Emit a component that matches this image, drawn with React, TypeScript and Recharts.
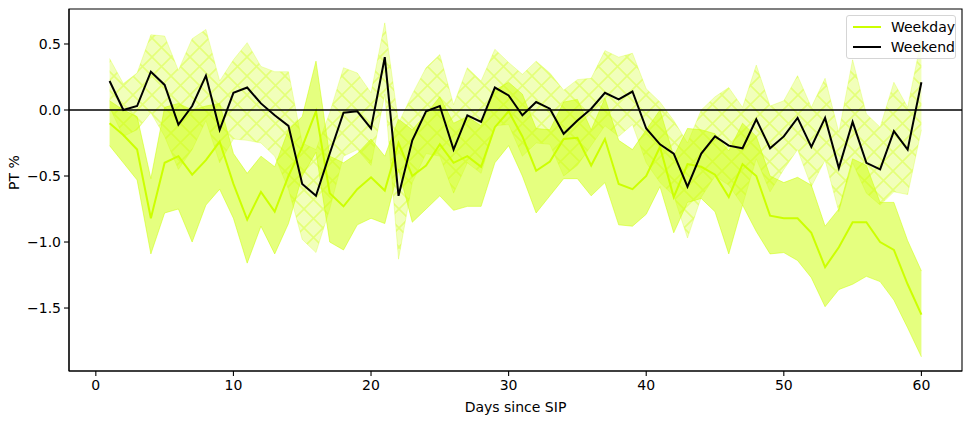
import {
  ComposedChart,
  Line,
  Area,
  XAxis,
  YAxis,
  ReferenceLine,
  ReferenceArea,
} from "recharts";

// ── Data ─────────────────────────────────────────────────────────────────────

const days = Array.from({ length: 60 }, (_, i) => i + 1);

const weekday = [
  -0.10, -0.19, -0.30, -0.82, -0.40, -0.35, -0.49, -0.38, -0.24, -0.56,
  -0.83, -0.62, -0.77, -0.50, -0.28, -0.01, -0.63, -0.73, -0.60, -0.51,
  -0.61, -0.25, -0.50, -0.42, -0.26, -0.40, -0.35, -0.43, -0.13, -0.01,
  -0.20, -0.46, -0.39, -0.22, -0.21, -0.42, -0.22, -0.56, -0.60, -0.50,
  -0.28, -0.66, -0.41, -0.43, -0.49, -0.66, -0.41, -0.50, -0.80, -0.82,
  -0.82, -0.93, -1.19, -1.04, -0.85, -0.85, -1.00, -1.06, -1.32, -1.55,
];

const weekdayHi = [
  0.07, 0.00, -0.05, -0.52, 0.02, 0.05, 0.00, 0.03, 0.05, -0.33,
  -0.48, -0.35, -0.43, -0.15, -0.05, 0.37, -0.35, -0.40, -0.33, -0.22,
  -0.35, -0.07, -0.15, -0.03, 0.10, -0.10, -0.05, -0.12, 0.15, 0.21,
  0.12, -0.14, -0.15, 0.06, 0.08, -0.15, 0.09, -0.23, -0.30, -0.15,
  0.00, -0.35, -0.14, -0.15, -0.18, -0.31, -0.10, -0.20, -0.50, -0.55,
  -0.51, -0.57, -0.88, -0.75, -0.37, -0.42, -0.70, -0.70, -0.99, -1.22,
];

const weekdayLo = [
  -0.27, -0.40, -0.53, -1.09, -0.78, -0.75, -1.00, -0.72, -0.60, -0.82,
  -1.16, -0.88, -1.09, -0.86, -0.50, -0.32, -1.00, -1.06, -0.87, -0.82,
  -0.86, -0.45, -0.85, -0.75, -0.65, -0.76, -0.73, -0.73, -0.40, -0.27,
  -0.50, -0.78, -0.65, -0.52, -0.52, -0.65, -0.55, -0.87, -0.88, -0.79,
  -0.58, -0.93, -0.70, -0.67, -0.77, -1.09, -0.72, -0.92, -1.09, -1.08,
  -1.14, -1.27, -1.49, -1.36, -1.32, -1.26, -1.30, -1.44, -1.65, -1.87,
];

const weekend = [
  0.22, 0.00, 0.03, 0.29, 0.19, -0.11, 0.03, 0.26, -0.15, 0.13,
  0.17, 0.05, -0.04, -0.12, -0.56, -0.65, -0.33, -0.02, -0.01, -0.14,
  0.40, -0.65, -0.23, -0.01, 0.03, -0.30, -0.04, -0.09, 0.17, 0.11,
  -0.04, 0.06, 0.01, -0.18, -0.08, 0.01, 0.13, 0.08, 0.14, -0.14,
  -0.26, -0.33, -0.58, -0.33, -0.20, -0.27, -0.29, -0.07, -0.29, -0.20,
  -0.06, -0.28, -0.06, -0.44, -0.09, -0.40, -0.45, -0.16, -0.30, 0.21,
];

const weekendHi = [
  0.39, 0.20, 0.28, 0.57, 0.56, 0.30, 0.54, 0.61, 0.22, 0.38,
  0.51, 0.33, 0.29, 0.29, -0.25, -0.30, -0.02, 0.32, 0.28, 0.13,
  0.66, -0.10, 0.12, 0.32, 0.42, 0.04, 0.32, 0.22, 0.46, 0.36,
  0.27, 0.37, 0.28, 0.15, 0.23, 0.24, 0.45, 0.40, 0.43, 0.16,
  0.06, -0.08, -0.25, 0.00, 0.10, 0.17, 0.02, 0.34, 0.03, 0.07,
  0.26, 0.02, 0.24, -0.17, 0.38, -0.03, -0.13, 0.21, 0.02, 0.54,
];

const weekendLo = [
  0.02, -0.20, -0.15, -0.02, -0.20, -0.45, -0.30, -0.08, -0.40, -0.22,
  -0.23, -0.25, -0.35, -0.60, -0.98, -1.08, -0.75, -0.35, -0.30, -0.42,
  0.12, -1.13, -0.55, -0.33, -0.35, -0.63, -0.40, -0.48, -0.12, -0.11,
  -0.35, -0.25, -0.26, -0.50, -0.42, -0.27, -0.12, -0.20, -0.11, -0.40,
  -0.55, -0.65, -0.97, -0.66, -0.50, -0.57, -0.72, -0.37, -0.62, -0.45,
  -0.30, -0.58, -0.38, -0.77, -0.40, -0.63, -0.72, -0.62, -0.64, -0.15,
];

const xTicks = [0, 10, 20, 30, 40, 50, 60];
const yTicks = [-1.5, -1.0, -0.5, 0.0, 0.5];

const X_DOMAIN: [number, number] = [-1.95, 62.95];
const Y_DOMAIN: [number, number] = [-1.977, 0.765];

const LIME = "#ccff00";
const FONT = "DejaVu Sans, sans-serif";

const data = days.map((d, i) => ({
  day: d,
  weekday: weekday[i],
  weekend: weekend[i],
  weekdayBand: [weekdayLo[i], weekdayHi[i]],
  weekendBand: [weekendLo[i], weekendHi[i]],
}));

const fmtY = (v: number) => v.toFixed(1).replace("-", "\u2212");

// legend drawn as an overlay so it takes no room from the plot
const LegendBox = () => (
  <div
    style={{
      position: "absolute",
      left: 846,
      top: 15,
      width: 110,
      height: 44,
      border: "1px solid #d5d5d5",
      borderRadius: 3,
      background: "rgba(255,255,255,0.8)",
      fontFamily: FONT,
      fontSize: 14,
      color: "#000",
      boxSizing: "border-box",
      padding: "1px 0 0 6px",
    }}
  >
    {[
      { label: "Weekday", color: LIME },
      { label: "Weekend", color: "#000" },
    ].map((it) => (
      <div
        key={it.label}
        style={{ display: "flex", alignItems: "center", height: 20 }}
      >
        <span
          style={{
            display: "inline-block",
            width: 28,
            height: 2,
            background: it.color,
            marginRight: 10,
          }}
        />
        {it.label}
      </div>
    ))}
  </div>
);

export default function App() {
  return (
    <div
      style={{
        position: "absolute",
        left: 0,
        top: 0,
        width: 972,
        height: 422,
        background: "#fff",
      }}
    >
      <ComposedChart
        width={972}
        height={422}
        data={data}
        margin={{ top: 9, right: 10, bottom: 0, left: 0 }}
      >
        <defs>
          <pattern
            id="xhatch"
            patternUnits="userSpaceOnUse"
            width={19}
            height={19}
          >
            <rect width={19} height={19} fill={LIME} fillOpacity={0.27} />
            <path
              d="M0,0 L19,19 M19,0 L0,19"
              stroke={LIME}
              strokeOpacity={0.35}
              strokeWidth={1.6}
            />
          </pattern>
        </defs>
        <XAxis
          dataKey="day"
          type="number"
          domain={X_DOMAIN}
          ticks={xTicks}
          allowDataOverflow
          height={51}
          tickSize={5}
          tickMargin={4}
          axisLine={{ stroke: "#000", strokeWidth: 1.1 }}
          tickLine={{ stroke: "#000", strokeWidth: 1.1 }}
          tick={{ fill: "#000", fontSize: 14, fontFamily: FONT }}
          label={{
            value: "Days since SIP",
            position: "insideBottom",
            offset: 10,
            fill: "#000",
            fontSize: 14,
            fontFamily: FONT,
          }}
        />
        <YAxis
          type="number"
          domain={Y_DOMAIN}
          ticks={yTicks}
          allowDataOverflow
          width={69}
          tickSize={5}
          tickMargin={3}
          tickFormatter={fmtY}
          axisLine={{ stroke: "#000", strokeWidth: 1.1 }}
          tickLine={{ stroke: "#000", strokeWidth: 1.1 }}
          tick={{ fill: "#000", fontSize: 14, fontFamily: FONT }}
          label={{
            value: "PT %",
            angle: -90,
            position: "insideLeft",
            offset: 14,
            fill: "#000",
            fontSize: 14,
            fontFamily: FONT,
          }}
        />
        <Area
          dataKey="weekdayBand"
          type="linear"
          fill={LIME}
          fillOpacity={0.5}
          stroke={LIME}
          strokeOpacity={0.5}
          strokeWidth={1}
          isAnimationActive={false}
          legendType="none"
          activeDot={false}
        />
        <Line
          dataKey="weekday"
          name="Weekday"
          type="linear"
          stroke={LIME}
          strokeWidth={2}
          dot={false}
          isAnimationActive={false}
        />
        <Area
          dataKey="weekendBand"
          type="linear"
          fill="url(#xhatch)"
          fillOpacity={1}
          stroke={LIME}
          strokeOpacity={0.25}
          strokeWidth={1}
          isAnimationActive={false}
          legendType="none"
          activeDot={false}
        />
        <ReferenceLine y={0} stroke="#000" strokeWidth={1.3} />
        <Line
          dataKey="weekend"
          name="Weekend"
          type="linear"
          stroke="#000"
          strokeWidth={2}
          dot={false}
          isAnimationActive={false}
        />
        <ReferenceArea
          x1={X_DOMAIN[0]}
          x2={X_DOMAIN[1]}
          y1={Y_DOMAIN[0]}
          y2={Y_DOMAIN[1]}
          fill="none"
          stroke="#000"
          strokeWidth={1.1}
        />
      </ComposedChart>
      <LegendBox />
    </div>
  );
}
